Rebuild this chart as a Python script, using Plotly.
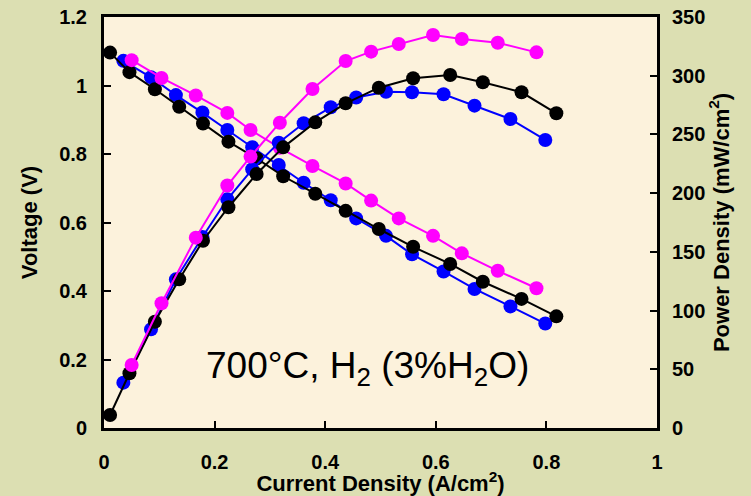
import plotly.graph_objects as go

# ---- data ----
# black series
black_j = [0.011, 0.046, 0.092, 0.136, 0.179, 0.225, 0.276, 0.324, 0.382, 0.437, 0.497, 0.559, 0.626, 0.685, 0.755, 0.818]
black_v = [1.096, 1.039, 0.989, 0.938, 0.889, 0.836, 0.787, 0.735, 0.684, 0.634, 0.581, 0.529, 0.479, 0.427, 0.377, 0.326]
black_p = [11.1, 46.6, 90.5, 126.6, 159.5, 188.0, 216.3, 239.0, 260.3, 276.5, 289.8, 297.8, 300.6, 294.4, 285.9, 268.0]

# blue series
blue_j = [0.035, 0.085, 0.130, 0.178, 0.223, 0.268, 0.316, 0.361, 0.410, 0.456, 0.510, 0.557, 0.614, 0.670, 0.735, 0.798]
blue_v = [1.072, 1.024, 0.972, 0.921, 0.870, 0.820, 0.768, 0.716, 0.665, 0.612, 0.561, 0.507, 0.457, 0.406, 0.355, 0.305]
blue_p = [38.6, 84.0, 126.6, 162.7, 194.8, 220.3, 243.0, 259.5, 273.1, 281.5, 286.4, 285.9, 284.2, 274.5, 263.1, 245.3]

# magenta series
mag_j = [0.050, 0.104, 0.166, 0.223, 0.265, 0.318, 0.377, 0.437, 0.483, 0.533, 0.595, 0.647, 0.712, 0.782]
mag_v = [1.074, 1.022, 0.971, 0.920, 0.870, 0.818, 0.765, 0.714, 0.664, 0.612, 0.561, 0.510, 0.459, 0.408]
mag_p = [53.7, 106.2, 162.1, 206.5, 231.1, 260.0, 288.7, 312.5, 320.5, 327.0, 334.7, 331.3, 328.1, 319.9]

x_ticks = [0, 0.2, 0.4, 0.6, 0.8, 1]
v_ticks = [0, 0.2, 0.4, 0.6, 0.8, 1, 1.2]
p_ticks = [0, 50, 100, 150, 200, 250, 300, 350]

BLUE = "#0000ff"
BLACK = "#000000"
MAG = "#ff00ff"
MS = 14
LW = 2

fig = go.Figure()

def add(xs, ys, color, axis):
    fig.add_trace(go.Scatter(
        x=xs, y=ys, mode="lines+markers", yaxis=axis,
        line=dict(color=color, width=LW),
        marker=dict(color=color, size=MS),
        showlegend=False, hoverinfo="skip"))

# voltage curves
add(blue_j, blue_v, BLUE, "y")
add(black_j, black_v, BLACK, "y")
add(mag_j, mag_v, MAG, "y")
# power curves
add(blue_j, blue_p, BLUE, "y2")
add(black_j, black_p, BLACK, "y2")
add(mag_j, mag_p, MAG, "y2")

FONT = "Liberation Sans, Arial, sans-serif"
tickfont = dict(family=FONT, size=20, color="black", weight="bold")
titlefont = dict(family=FONT, size=22, color="black", weight="bold")

fig.update_layout(
    width=751, height=496,
    margin=dict(l=104, r=94, t=17, b=68),
    paper_bgcolor="#dcdfb2",
    plot_bgcolor="#fcf2dc",
    font=dict(family=FONT),
    xaxis=dict(
        range=[0, 1], tickvals=x_ticks, ticktext=[str(t) for t in x_ticks],
        showgrid=False, zeroline=False,
        showline=True, linecolor="black", linewidth=3, mirror=True,
        ticks="inside", ticklen=7, tickwidth=2, tickcolor="black",
        tickfont=tickfont, ticklabelstandoff=14,
        title=dict(text="Current Density (A/cm<sup>2</sup>)", font=titlefont, standoff=0),
        automargin=False,
    ),
    yaxis=dict(
        range=[0, 1.2], tickvals=v_ticks, ticktext=[str(t) for t in v_ticks],
        showgrid=False, zeroline=False,
        showline=True, linecolor="black", linewidth=3,
        ticks="inside", ticklen=7, tickwidth=2, tickcolor="black",
        tickfont=tickfont, ticklabelstandoff=10,
        title=dict(text="Voltage (V)", font=titlefont, standoff=16),
        automargin=False,
    ),
    yaxis2=dict(
        range=[0, 350], tickvals=p_ticks, ticktext=[str(t) for t in p_ticks],
        overlaying="y", side="right",
        showgrid=False, zeroline=False,
        showline=True, linecolor="black", linewidth=3,
        ticks="inside", ticklen=7, tickwidth=2, tickcolor="black",
        tickfont=tickfont, ticklabelstandoff=8,
        title=dict(text="Power Density (mW/cm<sup>2</sup>)", font=titlefont, standoff=6),
        automargin=False,
    ),
    annotations=[dict(
        x=0.476, y=0.175, xref="x", yref="y",
        text="700°C, H<sub>2</sub> (3%H<sub>2</sub>O)",
        showarrow=False,
        font=dict(family=FONT, size=37, color="black"),
        xanchor="center", yanchor="middle",
    )],
)

fig.write_html(
    "out.html",
    config={"displayModeBar": False},
    post_script="document.body.style.margin='0';document.body.style.padding='0';"
                "document.body.style.overflow='hidden';",
)
